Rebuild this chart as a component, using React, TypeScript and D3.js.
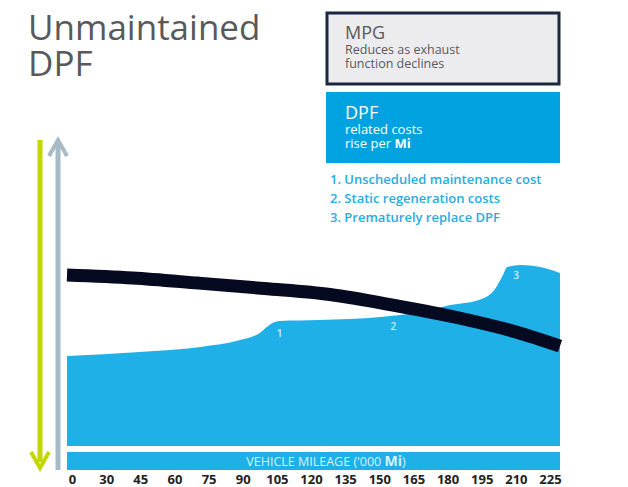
import React, { useEffect, useRef } from 'react'
import * as d3 from 'd3'

// mileage ('000 Mi) tick labels along the bottom
const tickLabels = ['0', '30', '45', '60', '75', '90', '105', '120', '135', '150', '165', '180', '195', '210', '225']

// MPG curve (relative units)
const mpgMiles = [0, 30, 60, 90, 120, 150, 180, 205, 225]
const mpgValues = [57, 56, 54.3, 52.5, 50.5, 46.8, 42.5, 38, 33.3]

// DPF related costs (relative units)
const costMiles = [0, 33, 61, 79, 88, 93, 97, 115, 143, 161, 175, 188, 195, 198.5, 201, 207, 218, 225]
const costValues = [30, 31.3, 33, 35.3, 37.7, 40.7, 41.7, 42, 43, 44.7, 47, 48.7, 52, 56.3, 59.7, 60.3, 59.3, 57.7]

// numbered markers on the cost area
const markerLabels = ['1', '2', '3']
const markerMiles = [97, 149, 205]
const markerValues = [36.3, 38.7, 55.7]

const listItems = ['1. Unscheduled maintenance cost', '2. Static regeneration costs', '3. Prematurely replace DPF']

const W = 628
const H = 487
const FONT = "'Open Sans', 'DejaVu Sans', sans-serif"
const BLUE = '#1fb0e8'

const App = () => {
  const ref = useRef<SVGSVGElement>(null)

  useEffect(() => {
    const svg = d3.select(ref.current)
    svg.selectAll('*').remove()

    const x = d3.scaleLinear().domain([0, 225]).range([67, 560])
    const y = d3.scaleLinear().domain([0, 100]).range([446, 146])

    // title
    const title = svg.append('text').attr('font-family', FONT).attr('fill', '#58595b').attr('font-size', 35)
    title.append('tspan').attr('x', 28).attr('y', 40).text('Unmaintained')
    title.append('tspan').attr('x', 28).attr('y', 76).text('DPF')

    // MPG box
    svg.append('rect').attr('x', 327).attr('y', 13).attr('width', 232).attr('height', 71)
      .attr('fill', '#ececee').attr('stroke', '#1b2640').attr('stroke-width', 3)
    svg.append('text').attr('x', 345).attr('y', 39).attr('font-family', FONT).attr('font-size', 18)
      .attr('fill', '#58595b').text('MPG')
    svg.append('text').attr('x', 345).attr('y', 54).attr('font-family', FONT).attr('font-size', 12.5)
      .attr('fill', '#58595b').text('Reduces as exhaust')
    svg.append('text').attr('x', 345).attr('y', 68).attr('font-family', FONT).attr('font-size', 12.5)
      .attr('fill', '#58595b').text('function declines')

    // DPF box
    svg.append('rect').attr('x', 326).attr('y', 92).attr('width', 234).attr('height', 71).attr('fill', '#00a3e0')
    svg.append('text').attr('x', 345).attr('y', 119).attr('font-family', FONT).attr('font-size', 18)
      .attr('fill', '#fff').text('DPF')
    svg.append('text').attr('x', 345).attr('y', 134).attr('font-family', FONT).attr('font-size', 13)
      .attr('fill', '#fff').text('related costs')
    const rise = svg.append('text').attr('x', 345).attr('y', 148).attr('font-family', FONT).attr('font-size', 13)
      .attr('fill', '#fff')
    rise.append('tspan').text('rise per ')
    rise.append('tspan').attr('font-weight', 700).text('Mi')

    // numbered list
    svg.selectAll('.item').data(listItems).enter().append('text')
      .attr('x', 330).attr('y', (d, i) => 184 + i * 19)
      .attr('font-family', FONT).attr('font-size', 13).attr('font-weight', 600)
      .attr('fill', '#29abe2').text(d => d)

    // vertical arrows
    const arrows = [
      { x: 40, color: '#c4d600', down: true },
      { x: 58, color: '#a8bac6', down: false }
    ]
    arrows.forEach(a => {
      const top = 140
      const bot = 468
      if (a.down) {
        svg.append('line').attr('x1', a.x).attr('x2', a.x).attr('y1', top).attr('y2', bot - 6)
          .attr('stroke', a.color).attr('stroke-width', 5)
        svg.append('path').attr('d', `M${a.x - 9},${bot - 16} L${a.x},${bot} L${a.x + 9},${bot - 16}`)
          .attr('fill', 'none').attr('stroke', a.color).attr('stroke-width', 4)
      } else {
        svg.append('line').attr('x1', a.x).attr('x2', a.x).attr('y1', top + 4).attr('y2', 470)
          .attr('stroke', a.color).attr('stroke-width', 5)
        svg.append('path').attr('d', `M${a.x - 9},${top + 16} L${a.x},${top} L${a.x + 9},${top + 16}`)
          .attr('fill', 'none').attr('stroke', a.color).attr('stroke-width', 4)
      }
    })

    // cost area
    const costData = costMiles.map((m, i) => ({ m, v: costValues[i] }))
    const area = d3.area<{ m: number; v: number }>()
      .x(d => x(d.m)).y0(y(0)).y1(d => y(d.v)).curve(d3.curveMonotoneX)
    svg.append('path').datum(costData).attr('d', area).attr('fill', BLUE)

    // mpg line
    const mpgData = mpgMiles.map((m, i) => ({ m, v: mpgValues[i] }))
    const line = d3.line<{ m: number; v: number }>().x(d => x(d.m)).y(d => y(d.v)).curve(d3.curveMonotoneX)
    svg.append('path').datum(mpgData).attr('d', line).attr('fill', 'none')
      .attr('stroke', '#050a20').attr('stroke-width', 13)

    // markers
    svg.selectAll('.marker').data(markerLabels).enter().append('text')
      .attr('x', (d, i) => x(markerMiles[i])).attr('y', (d, i) => y(markerValues[i]))
      .attr('text-anchor', 'middle').attr('font-family', FONT).attr('font-size', 10)
      .attr('font-weight', 600).attr('fill', '#cfeefb').text(d => d)

    // axis bar
    svg.append('rect').attr('x', x(0)).attr('y', 452).attr('width', x(225) - x(0)).attr('height', 18).attr('fill', BLUE)
    const axisTitle = svg.append('text').attr('x', 326).attr('y', 466).attr('text-anchor', 'middle')
      .attr('font-family', FONT).attr('font-size', 12.5).attr('fill', '#d8f2fc')
    axisTitle.append('tspan').text("VEHICLE MILEAGE ('000 ")
    axisTitle.append('tspan').attr('font-weight', 700).attr('font-size', 14).text('Mi')
    axisTitle.append('tspan').text(')')

    // tick labels
    const xt = d3.scalePoint<string>().domain(tickLabels).range([72, 550])
    const axis = d3.axisBottom(xt).tickSize(0).tickPadding(0)
    const g = svg.append('g').attr('transform', 'translate(0,473)').call(axis)
    g.select('.domain').remove()
    g.selectAll('text').attr('font-family', FONT).attr('font-size', 13).attr('font-weight', 700)
      .attr('fill', '#222').attr('dy', '0.85em')
  }, [])

  return (
    <svg ref={ref} width={W} height={H}
      style={{ position: 'absolute', left: 0, top: 0, display: 'block', background: '#fff' }} />
  )
}

export default App
